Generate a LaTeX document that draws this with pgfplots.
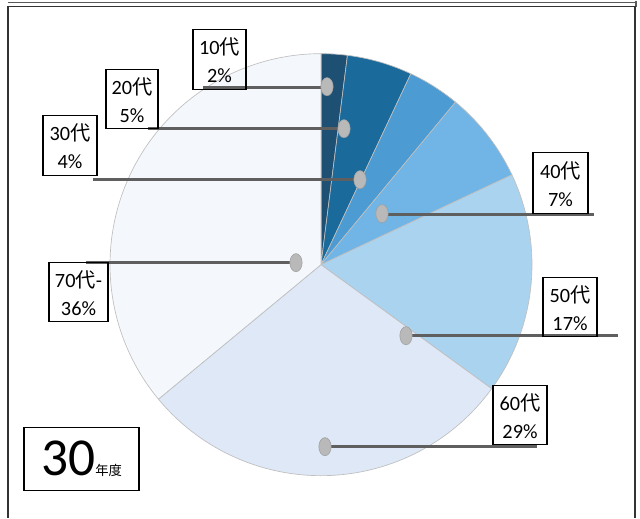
\documentclass[border=0pt]{standalone}
\usepackage{pgfplots}
\pgfplotsset{compat=1.18}
\usepackage{fontspec}
\setmainfont{Carlito}
\newfontfamily\cjk{Noto Sans CJK JP}
\definecolor{c1}{RGB}{30,80,115}
\definecolor{c2}{RGB}{26,106,155}
\definecolor{c3}{RGB}{76,155,210}
\definecolor{c4}{RGB}{112,181,229}
\definecolor{c5}{RGB}{170,211,240}
\definecolor{c6}{RGB}{222,232,247}
\definecolor{c7}{RGB}{244,248,253}
\definecolor{leader}{RGB}{95,95,95}
\newcommand\lbl[6]{%
  \draw[line width=1.1pt] (axis cs:#1,#2) rectangle (axis cs:#3,#4);
  \node[align=center,font=\fontsize{15.2}{21}\selectfont,inner sep=0pt]
     at (axis cs:{(#1+#3)/2},{(#2+#4)/2+1}) {#5\\#6};}
\begin{document}
\begin{tikzpicture}
\begin{axis}[scale only axis, width=480pt, height=387.75pt,
  xmin=0, xmax=640, ymin=0, ymax=517, y dir=reverse,
  hide axis, clip=false]
\path (axis cs:0,0) rectangle (axis cs:640,517);
% frame
\draw[line width=1pt, gray!70!black] (axis cs:8,2) -- (axis cs:637,2);
\draw[line width=1pt, gray!70!black] (axis cs:636,0) -- (axis cs:636,6);
\draw[line width=1.2pt, black!80] (axis cs:8,517) -- (axis cs:8,6) -- (axis cs:635,6) -- (axis cs:635,517);
% pie (values in percent, clockwise from top)
\def\cum{0}
\foreach \v/\c in {2/c1,5/c2,4/c3,7/c4,17/c5,29/c6,36/c7}{
  \pgfmathsetmacro\a{90-3.6*\cum}
  \pgfmathsetmacro\b{90-3.6*(\cum+\v)}
  \edef\temp{\noexpand\fill[\c, draw=gray!50, line width=0.5pt] (axis cs:321,264) -- ++(\a:158.25pt) arc[start angle=\a, end angle=\b, radius=158.25pt] -- cycle;}
  \temp
  \pgfmathsetmacro\n{\cum+\v}
  \xdef\cum{\n}
}
% leader lines
\pgfplotsset{every axis plot/.append style={}}
\addplot[leader, line width=2pt] coordinates {(203,87) (327,87)};
\addplot[leader, line width=2pt] coordinates {(148,128) (344,128)};
\addplot[leader, line width=2pt] coordinates {(93,179) (360,179)};
\addplot[leader, line width=2pt] coordinates {(382,214) (594,214)};
\addplot[leader, line width=2pt] coordinates {(406,335) (618,335)};
\addplot[leader, line width=2pt] coordinates {(325,446) (537,446)};
\addplot[leader, line width=2pt] coordinates {(86,262) (296,262)};
% dots
\addplot[only marks, mark=*, mark size=6.8pt,
  mark options={fill=gray!55, draw=gray!75, xscale=0.68}]
  coordinates {(327,86) (344,128) (360,179) (382,213) (406,335) (325,446) (296,262)};
% labels
\lbl{193}{29}{246}{89}{10{\cjk 代}}{2\%}
\lbl{106}{69}{158}{128}{20{\cjk 代}}{5\%}
\lbl{43}{115}{97}{175}{30{\cjk 代}}{4\%}
\lbl{533}{152}{588}{213}{40{\cjk 代}}{7\%}
\lbl{49}{262}{108}{321}{70{\cjk 代}-}{36\%}
\lbl{543}{277}{597}{336}{50{\cjk 代}}{17\%}
\lbl{493}{385}{547}{444}{60{\cjk 代}}{29\%}
% year box
\draw[line width=1.1pt] (axis cs:24,427) rectangle (axis cs:139,490);
\node[anchor=base west, inner sep=0pt] at (axis cs:41,475)
  {\fontsize{40}{41}\selectfont 30\fontsize{10}{12}\selectfont\cjk 年度};
\end{axis}
\end{tikzpicture}
\end{document}
